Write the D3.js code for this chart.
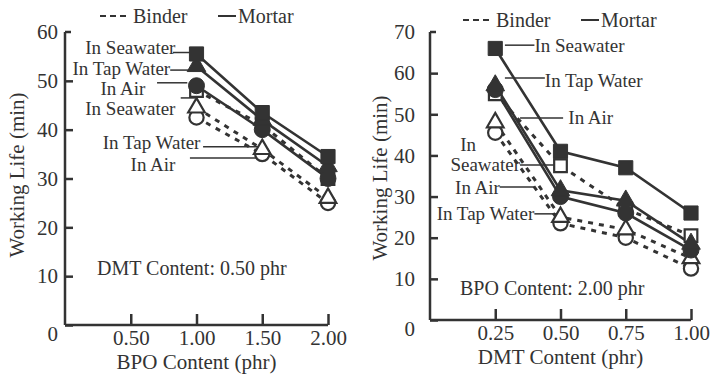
<!DOCTYPE html>
<html>
<head>
<meta charset="utf-8">
<script src="https://cdn.jsdelivr.net/npm/d3@7"></script>
<style>
  body { margin: 0; background: #fff; }
  svg text { font-family: "Liberation Serif", "DejaVu Serif", serif; }
</style>
</head>
<body>
<script>
// left panel: working life vs BPO content (DMT 0.50 phr)
var bpoContent = [1.00, 1.50, 2.00];
var leftMortarSea = [55.5, 43.5, 34.5];
var leftMortarTap = [53, 42, 32.5];
var leftMortarAir = [49, 40, 30];
var leftBinderSea = [48, 41, 30];
var leftBinderTap = [44.5, 36, 26];
var leftBinderAir = [42.5, 35, 25];
var leftXTicks = [0.5, 1.0, 1.5, 2.0];
var leftYTicks = [0, 10, 20, 30, 40, 50, 60];

// right panel: working life vs DMT content (BPO 2.00 phr)
var dmtContent = [0.25, 0.50, 0.75, 1.00];
var rightMortarSea = [66, 41, 37, 26];
var rightMortarTap = [57, 31.5, 29, 18.5];
var rightMortarAir = [56, 30, 26, 17];
var rightBinderSea = [55, 37.5, 27, 20.5];
var rightBinderTap = [48, 25, 22, 15];
var rightBinderAir = [45.5, 23.5, 20, 12.5];
var rightXTicks = [0.25, 0.5, 0.75, 1.0];
var rightYTicks = [0, 10, 20, 30, 40, 50, 60, 70];

var ink = "#333";
var serif = "Liberation Serif, DejaVu Serif, serif";
var width = 710, height = 375;

var svg = d3.select("body").append("svg")
    .attr("width", width)
    .attr("height", height)
    .attr("font-family", serif);

var panels = [
    {
        xs: bpoContent,
        x: d3.scaleLinear().domain([0, 2]).range([65, 328]),
        y: d3.scaleLinear().domain([0, 60]).range([325, 32]),
        xTicks: leftXTicks, yTicks: leftYTicks, yLabelPad: 7,
        xTitle: "BPO Content (phr)", titleX: 17, titleY: 175,
        note: "DMT Content: 0.50 phr", noteX: 97, noteY: 268,
        legendX: 100, legendY: 16,
        series: [
            { v: leftBinderSea, sym: "square", filled: false },
            { v: leftBinderAir, sym: "circle", filled: false },
            { v: leftBinderTap, sym: "triangle", filled: false },
            { v: leftMortarAir, sym: "circle", filled: true },
            { v: leftMortarTap, sym: "triangle", filled: true },
            { v: leftMortarSea, sym: "square", filled: true }
        ],
        // labels in data units: text anchor point and pointer line
        labels: [
            { t: "In Seawater", x: 0.84, y: 56.9, a: "end", line: [0.82, 55.8, 0.97, 55.8] },
            { t: "In Tap Water", x: 0.80, y: 52.6, a: "end", line: [0.80, 52.2, 0.96, 52.2] },
            { t: "In Air", x: 0.44, y: 48.5, a: "middle", line: [0.70, 49.6, 0.93, 49.6] },
            { t: "In Seawater", x: 0.84, y: 44.4, a: "end", line: [0.88, 46.5, 0.99, 46.5] },
            { t: "In Tap Water", x: 1.03, y: 37.3, a: "end", line: [1.05, 36.5, 1.47, 36.5] },
            { t: "In Air", x: 0.84, y: 32.8, a: "end", line: [0.95, 34.2, 1.47, 34.2] }
        ]
    },
    {
        xs: dmtContent,
        x: d3.scaleLinear().domain([0, 1]).range([430, 691]),
        y: d3.scaleLinear().domain([0, 70]).range([320, 32]),
        xTicks: rightXTicks, yTicks: rightYTicks, yLabelPad: 15,
        xTitle: "DMT Content (phr)", titleX: 380, titleY: 178,
        note: "BPO Content: 2.00 phr", noteX: 460, noteY: 288,
        legendX: 463, legendY: 20,
        series: [
            { v: rightBinderSea, sym: "square", filled: false },
            { v: rightBinderAir, sym: "circle", filled: false },
            { v: rightBinderTap, sym: "triangle", filled: false },
            { v: rightMortarAir, sym: "circle", filled: true },
            { v: rightMortarTap, sym: "triangle", filled: true },
            { v: rightMortarSea, sym: "square", filled: true }
        ],
        labels: [
            { t: "In Seawater", x: 0.40, y: 66.8, a: "start", line: [0.287, 66.8, 0.40, 66.8] },
            { t: "In Tap Water", x: 0.44, y: 58.3, a: "start", line: [0.287, 58.8, 0.44, 58.8] },
            { t: "In Air", x: 0.53, y: 49.1, a: "start", line: [0.345, 49.1, 0.51, 49.1] },
            { t: "In", x: 0.146, y: 42.6, a: "middle" },
            { t: "Seawater", x: 0.345, y: 37.7, a: "end", line: [0.345, 37.7, 0.483, 37.7] },
            { t: "In Air", x: 0.268, y: 32.3, a: "end", line: [0.268, 32.3, 0.40, 32.3] },
            { t: "In Tap Water", x: 0.40, y: 25.8, a: "end", line: [0.40, 25.8, 0.487, 25.8] }
        ]
    }
];

var symType = { square: d3.symbolSquare, circle: d3.symbolCircle, triangle: d3.symbolTriangle };
var symSize = { square: 200, circle: 200, triangle: 150 };

panels.forEach(function (p) {
    var g = svg.append("g");

    // axes, ticks pointing inward
    var yAxis = d3.axisLeft(p.y).tickValues(p.yTicks).tickSize(-8).tickPadding(p.yLabelPad)
        .tickFormat(d3.format("d"));
    var xAxis = d3.axisBottom(p.x).tickValues(p.xTicks).tickSize(-11).tickPadding(5)
        .tickFormat(d3.format(".2f"));

    var ya = g.append("g").attr("transform", "translate(" + p.x.range()[0] + ",0)").call(yAxis);
    var xa = g.append("g").attr("transform", "translate(0," + p.y.range()[0] + ")").call(xAxis);
    [ya, xa].forEach(function (a) {
        a.attr("font-family", serif).attr("font-size", 21);
        a.select(".domain").attr("stroke", ink).attr("stroke-width", 2.5)
            .attr("d", a === ya
                ? "M0," + p.y.range()[1] + "H6M0," + p.y.range()[1] + "V" + p.y.range()[0]
                : "M" + p.x.range()[0] + ",0H" + p.x.range()[1]);
        a.selectAll(".tick line").attr("stroke", ink).attr("stroke-width", 2.5);
        a.selectAll(".tick text").attr("fill", ink);
    });
    ya.selectAll(".tick").filter(function (d) { return d === 0; })
        .select("text").attr("dy", "0.75em");
    ya.selectAll(".tick").filter(function (d) { return d === p.y.domain()[1]; })
        .select("line").remove();

    g.append("text")
        .attr("x", d3.mean(p.x.range())).attr("y", p.y.range()[0] + 44)
        .attr("text-anchor", "middle").attr("fill", ink).attr("font-size", 21)
        .text(p.xTitle);
    g.append("text")
        .attr("transform", "translate(" + p.titleX + "," + p.titleY + ") rotate(-90)")
        .attr("text-anchor", "middle").attr("dominant-baseline", "central")
        .attr("fill", ink).attr("font-size", 21)
        .text("Working Life (min)");
    g.append("text")
        .attr("x", p.noteX).attr("y", p.noteY).attr("dominant-baseline", "central")
        .attr("fill", ink).attr("font-size", 20)
        .text(p.note);

    // legend
    var lg = g.append("g").attr("transform", "translate(" + p.legendX + "," + p.legendY + ")");
    lg.append("line").attr("x1", 0).attr("x2", 27).attr("stroke", ink).attr("stroke-width", 2)
        .attr("stroke-dasharray", "6,4");
    lg.append("text").attr("x", 33).attr("dominant-baseline", "central").attr("fill", ink)
        .attr("font-size", 20).text("Binder");
    lg.append("line").attr("x1", 118).attr("x2", 136).attr("stroke", ink).attr("stroke-width", 2);
    lg.append("text").attr("x", 138).attr("dominant-baseline", "central").attr("fill", ink)
        .attr("font-size", 20).text("Mortar");

    // series lines
    var line = d3.line()
        .x(function (d, i) { return p.x(p.xs[i]); })
        .y(function (d) { return p.y(d); });

    p.series.forEach(function (s) {
        g.append("path").datum(s.v)
            .attr("d", line)
            .attr("fill", "none")
            .attr("stroke", ink)
            .attr("stroke-width", s.filled ? 2.6 : 3)
            .attr("stroke-dasharray", s.filled ? null : "5,6");
    });

    // label pointers
    p.labels.forEach(function (l) {
        if (l.line) {
            g.append("line")
                .attr("x1", p.x(l.line[0])).attr("y1", p.y(l.line[1]))
                .attr("x2", p.x(l.line[2])).attr("y2", p.y(l.line[3]))
                .attr("stroke", ink).attr("stroke-width", 1.5);
        }
    });

    // markers
    p.series.forEach(function (s) {
        g.selectAll(null).data(s.v).enter().append("path")
            .attr("transform", function (d, i) { return "translate(" + p.x(p.xs[i]) + "," + p.y(d) + ")"; })
            .attr("d", d3.symbol().type(symType[s.sym]).size(s.filled ? symSize[s.sym] : symSize[s.sym] * 0.8))
            .attr("fill", s.filled ? ink : "#fff")
            .attr("stroke", ink)
            .attr("stroke-width", s.filled ? 1 : 2.2);
    });

    // label text
    p.labels.forEach(function (l) {
        g.append("text")
            .attr("x", p.x(l.x)).attr("y", p.y(l.y))
            .attr("text-anchor", l.a).attr("dominant-baseline", "central")
            .attr("fill", ink).attr("font-size", 19)
            .text(l.t);
    });
});
</script>
</body>
</html>
